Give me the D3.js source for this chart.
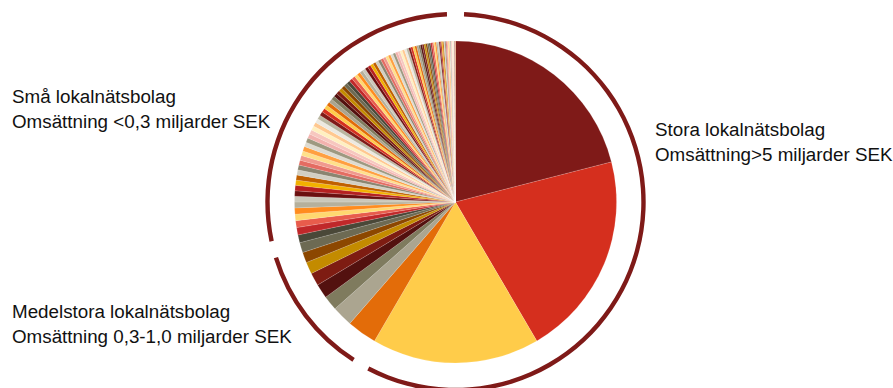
<!DOCTYPE html>
<html>
<head>
<meta charset="utf-8">
<script src="https://cdn.jsdelivr.net/npm/d3@7"></script>
<style>
  html, body { margin: 0; padding: 0; background: #fff; }
  svg { display: block; }
  text { font-family: "Liberation Sans", Arial, sans-serif; fill: #111; }
</style>
</head>
<body>
<svg id="chart" width="893" height="388"></svg>
<script>
// Omsättning per lokalnätsbolag (MSEK), grouped by size class
const storaValues = [7000, 6860, 5610];
const medelValues = [1000, 690, 490, 480, 430, 400, 350, 340];
const smaValues = [
  262, 246, 230, 216, 206, 196, 188,
  183, 179, 175, 172, 169, 166, 163, 160, 157, 155, 152, 149,
  147, 145, 143, 141, 139, 137, 135, 133, 131, 129, 127, 126, 124, 122,
  120, 118, 117, 115, 113, 112, 110, 108, 107, 105, 103, 102, 100, 98, 97, 95, 93,
  91, 89, 88, 86, 84, 82, 80, 78, 77, 75, 73, 71, 69, 68, 66, 64, 62,
  61, 59, 58, 56, 55, 53, 51, 50, 48, 46, 45, 43, 42, 40, 38, 37, 35,
  34, 32, 31, 29, 28, 26, 25, 23, 22, 20, 19, 17, 15, 13, 11, 9
];

// Group names and their label lines
const groupKeys = ["stora", "medel", "sma"];
const groupLabels = {
  stora: ["Stora lokalnätsbolag", "Omsättning>5 miljarder SEK"],
  medel: ["Medelstora lokalnätsbolag", "Omsättning 0,3-1,0 miljarder SEK"],
  sma:   ["Små lokalnätsbolag", "Omsättning <0,3 miljarder SEK"]
};

// Theme palette: six accents, each in several shades, cycled over the slices
const palette = [
  "#7f1a18", "#d52f1e", "#ffcc4a", "#e36c09", "#aba590", "#7f7b5e",
  "#53110f", "#7e1c12", "#c38b00", "#8c4700", "#6d6a53", "#4a4838",
  "#c0282a", "#e85c4c", "#ffd870", "#ff8c1e", "#b5b09c", "#cbc8ba",
  "#6b1010", "#b52020", "#f2b100", "#c06000", "#d2cfc2", "#8a8570",
  "#e46c62", "#f09a8e", "#ffe08a", "#ffa040", "#dedbd0", "#9d9980",
  "#f2b2ae", "#f7c7bf", "#fff0c0", "#ffc890", "#ece9e1", "#b9b6a0"
];

const slices = [
  ...storaValues.map(v => ({ group: "stora", value: v })),
  ...medelValues.map(v => ({ group: "medel", value: v })),
  ...smaValues.map(v => ({ group: "sma", value: v }))
];
slices.forEach((d, i) => d.color = palette[i % palette.length]);

const svg = d3.select("#chart");
const cx = 455.5, cy = 202;
const radius = 161;
const ringR = 188;

const g = svg.append("g").attr("transform", `translate(${cx},${cy})`);

const pie = d3.pie().sort(null).value(d => d.value);
const arcs = pie(slices);
const arc = d3.arc().innerRadius(0).outerRadius(radius);

g.selectAll("path.slice")
  .data(arcs)
  .join("path")
  .attr("class", "slice")
  .attr("d", arc)
  .attr("fill", d => d.data.color)
  .attr("stroke", "#fff")
  .attr("stroke-width", 0.3)
  .attr("stroke-opacity", 0.45);

// Outer ring segments, one per size class, separated by small gaps
const gap = 2.6 * Math.PI / 180;
const groupSpans = groupKeys.map(key => {
  const members = arcs.filter(a => a.data.group === key);
  return {
    key,
    startAngle: d3.min(members, a => a.startAngle) + gap,
    endAngle: d3.max(members, a => a.endAngle) - gap
  };
});
const ringArc = d3.arc().innerRadius(ringR - 2.2).outerRadius(ringR + 2.2);
g.selectAll("path.ring")
  .data(groupSpans)
  .join("path")
  .attr("class", "ring")
  .attr("d", ringArc)
  .attr("fill", "#7f1a18");

// Group labels
const labelPos = {
  stora: { x: 655, y: 136 },
  medel: { x: 12, y: 318 },
  sma:   { x: 12, y: 103 }
};
groupKeys.forEach(key => {
  const t = svg.append("text")
    .attr("x", labelPos[key].x)
    .attr("y", labelPos[key].y)
    .attr("font-size", 18.8);
  groupLabels[key].forEach((line, i) => {
    t.append("tspan")
      .attr("x", labelPos[key].x)
      .attr("dy", i === 0 ? 0 : 25)
      .text(line);
  });
});
</script>
</body>
</html>
